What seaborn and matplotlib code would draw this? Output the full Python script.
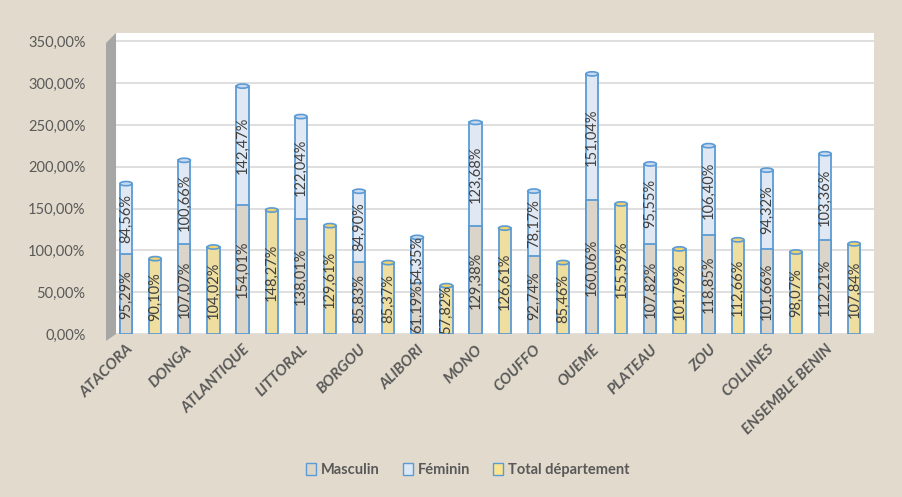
import matplotlib
matplotlib.use("Agg")
import matplotlib.pyplot as plt
from matplotlib.patches import Ellipse, Patch, Polygon
import numpy as np
import pandas as pd
import seaborn as sns

departements = ["ATACORA", "DONGA", "ATLANTIQUE", "LITTORAL", "BORGOU", "ALIBORI",
                "MONO", "COUFFO", "OUEME", "PLATEAU", "ZOU", "COLLINES", "ENSEMBLE BENIN"]
masculin = [95.29, 107.07, 154.01, 138.01, 85.83, 61.19, 129.38, 92.74, 160.06,
            107.82, 118.85, 101.66, 112.21]
feminin = [84.56, 100.66, 142.47, 122.04, 84.90, 54.35, 123.68, 78.17, 151.04,
           95.55, 106.40, 94.32, 103.36]
total = [90.10, 104.02, 148.27, 129.61, 85.37, 57.82, 126.61, 85.46, 155.59,
         101.79, 112.66, 98.07, 107.84]
yticks = [0, 50, 100, 150, 200, 250, 300, 350]

def fr(v):
    return f"{v:.2f}".replace(".", ",") + "%"

sns.set_theme(style="white")
plt.rcParams["font.family"] = ["Lato", "DejaVu Sans"]

BG = "#e2dbcd"
C_M = "#ddd5c6"
C_F = "#dde8f6"
C_T = "#fbe593"
EDGE = "#5b9bd5"
TXT = "#595959"

fig = plt.figure(figsize=(9.03, 4.97), dpi=100, facecolor=BG)
ax = fig.add_axes([0.1285, 0.328, 0.8394, 0.6056])
ax.set_facecolor("white")

slots = ["MF", "T"]
df_top = pd.DataFrame({
    "dep": departements * 2,
    "slot": ["MF"] * len(departements) + ["T"] * len(departements),
    "val": [m + f for m, f in zip(masculin, feminin)] + total,
})
df_m = pd.DataFrame({"dep": departements, "slot": ["MF"] * len(departements), "val": masculin})

kw = dict(x="dep", hue="slot", hue_order=slots, dodge=True, width=1.0, gap=0.58,
          edgecolor=EDGE, linewidth=1.3, errorbar=None, legend=False, ax=ax, zorder=3)
sns.barplot(data=df_top, y="val", palette={"MF": C_F, "T": C_T}, **kw)
sns.barplot(data=df_m, y="val", palette={"MF": C_M, "T": C_M}, **kw)

c_top, c_tot, c_m = ax.containers[0], ax.containers[1], ax.containers[2]

# cylinder caps derived from the drawn bars
cap_h = 5.0
for cont, col in [(c_top, "#c9daf0"), (c_tot, "#f0d36a")]:
    for p in cont:
        h = p.get_height()
        if np.isnan(h) or h == 0:
            continue
        ax.add_patch(Ellipse((p.get_x() + p.get_width() / 2, h), p.get_width(), cap_h,
                             facecolor=col, edgecolor=EDGE, linewidth=1.2, zorder=4))

lab_kw = dict(rotation=90, ha="center", va="center", fontsize=10.5, color="#404040", zorder=5)
for i, p in enumerate(c_m):
    xc = p.get_x() + p.get_width() / 2
    ax.text(xc, masculin[i] / 2, fr(masculin[i]), **lab_kw)
    ax.text(xc, masculin[i] + feminin[i] / 2, fr(feminin[i]), **lab_kw)
for i, p in enumerate(c_tot):
    xc = p.get_x() + p.get_width() / 2
    ax.text(xc, total[i] / 2, fr(total[i]), **lab_kw)

ax.set_ylim(0, 360)
ax.set_xlim(-0.422, len(departements) - 0.41)
ax.set_yticks(yticks)
ax.set_yticklabels([fr(v) for v in yticks], fontsize=10.5, color=TXT)
ax.yaxis.grid(True, color="#d9d9d9", linewidth=1.2, zorder=0)
ax.set_axisbelow(True)
ax.set_xticks(np.arange(len(departements)) - 0.25)
ax.set_xticklabels(departements, rotation=45, ha="right", rotation_mode="anchor",
                   fontsize=11, color=TXT, fontstyle="italic", fontweight="bold")
ax.tick_params(axis="y", length=0, pad=22)
ax.tick_params(axis="x", length=0, pad=6)
ax.set_xlabel("")
ax.set_ylabel("")
for s in ax.spines.values():
    s.set_visible(False)

# grey 3D side wall to the left of the back wall
wall = Polygon([(-0.0132, -0.023), (-0.0132, 0.967), (0.0, 1.0), (0.0, 0.0)],
               closed=True, transform=ax.transAxes, facecolor="#a6a6a6",
               edgecolor="none", clip_on=False, zorder=1)
ax.add_patch(wall)

handles = [Patch(facecolor=C_M, edgecolor=EDGE, label="Masculin"),
           Patch(facecolor=C_F, edgecolor=EDGE, label="Féminin"),
           Patch(facecolor=C_T, edgecolor=EDGE, label="Total département")]
leg = fig.legend(handles=handles, loc="center", bbox_to_anchor=(0.518, 0.055), ncol=3,
                 frameon=False, handlelength=0.7, handleheight=0.9, handletextpad=0.3,
                 columnspacing=1.6, prop={"size": 10.5, "weight": "bold"})
for t in leg.get_texts():
    t.set_color(TXT)

fig.savefig("out.png", dpi=100, facecolor=BG)
